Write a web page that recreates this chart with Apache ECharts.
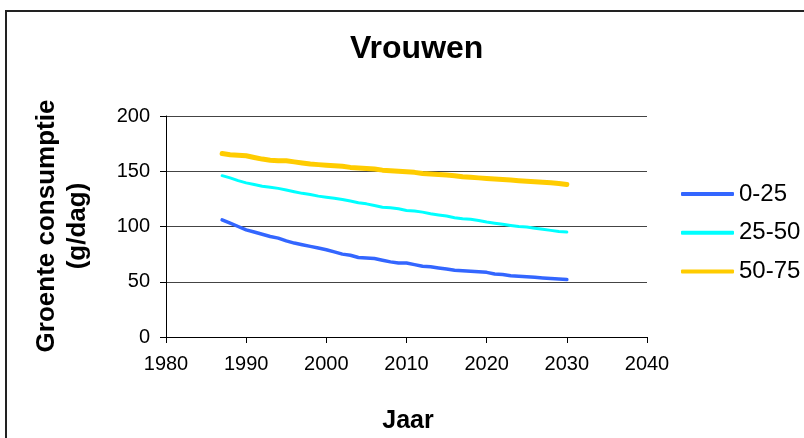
<!DOCTYPE html>
<html>
<head>
<meta charset="utf-8">
<script src="https://cdn.jsdelivr.net/npm/echarts@6/dist/echarts.min.js"></script>
<style>
html,body{margin:0;padding:0;background:#fff;}
#chart{width:804px;height:438px;}
</style>
</head>
<body>
<div id="chart"></div>
<script>
const years = [1987,1988,1989,1990,1991,1992,1993,1994,1995,1996,1997,1998,1999,2000,2001,2002,2003,2004,2005,2006,2007,2008,2009,2010,2011,2012,2013,2014,2015,2016,2017,2018,2019,2020,2021,2022,2023,2024,2025,2026,2027,2028,2029,2030];
const seriesNames = ['0-25','25-50','50-75'];
const v0_25 = [106,103,100,97,95,93,91,89.5,87,85,83.5,82,80.5,79,77,75,74,72,71.5,71,69.5,68,67,67,65.5,64,63.5,62.5,61.5,60.5,60,59.5,59,58.5,57,56.5,55.5,55,54.5,54,53.5,53,52.5,52];
const v25_50 = [146,144,141.5,139.5,138,136.5,135.5,134.5,133,131.5,130,129,127.5,126.5,125.5,124.5,123,121.5,120.5,119,117.5,117,116,114.5,114,113,111.5,110.5,109.5,108,107,106.5,105.5,104,103,102,101,100,99.5,98.5,97.5,96.5,95.5,95];
const v50_75 = [166,165,164.5,164,162.5,161,160,159.5,159.5,158.5,157.5,156.5,156,155.5,155,154.5,153.5,153,152.5,152,151,150.5,150,149.5,149,148,147.5,147,146.5,146,145,144.5,144,143.5,143,142.5,142,141.5,141,140.5,140,139.5,139,138];
const xTicks = [1980,1990,2000,2010,2020,2030,2040];
const yTicks = [0,50,100,150,200];
const titleText = 'Vrouwen';
const xName = 'Jaar';
const yName1 = 'Groente consumptie';
const yName2 = '(g/dag)';

const FONT = "'Liberation Sans', Arial, sans-serif";
const pairs = vals => years.map((y, i) => [y, vals[i]]);
const colors = ['#3366FF', '#00FFFF', '#FFCC00'];
const widths = [3.5, 3, 5];
const allVals = [v0_25, v25_50, v50_75];

const chart = echarts.init(document.getElementById('chart'), null, {renderer: 'canvas'});
chart.setOption({
  animation: false,
  backgroundColor: '#fff',
  grid: {left: 166, right: 157, top: 116, bottom: 101, containLabel: false},
  title: {
    text: titleText, left: 345, top: 28,
    textStyle: {fontFamily: FONT, fontSize: 32, fontWeight: 'bold', color: '#000'}
  },
  legend: {
    orient: 'vertical', left: 676, top: 177,
    itemWidth: 53, itemHeight: 4, itemGap: 14.7,
    data: seriesNames.map((n, i) => ({name: n, icon: 'roundRect', itemStyle: {color: colors[i]}})),
    textStyle: {fontFamily: FONT, fontSize: 24, lineHeight: 24, color: '#000'}
  },
  xAxis: {
    type: 'value', min: xTicks[0], max: xTicks[xTicks.length - 1], interval: 10,
    axisLine: {show: true, lineStyle: {color: '#000', width: 1}},
    axisTick: {show: true, length: 6, lineStyle: {color: '#000'}},
    axisLabel: {fontFamily: FONT, fontSize: 20, color: '#000', margin: 17, formatter: v => String(v)},
    splitLine: {show: false}
  },
  yAxis: {
    type: 'value', min: yTicks[0], max: yTicks[yTicks.length - 1], interval: 50,
    axisLine: {show: true, lineStyle: {color: '#000', width: 1}},
    axisTick: {show: true, length: 6, lineStyle: {color: '#000'}},
    axisLabel: {fontFamily: FONT, fontSize: 20, color: '#000', margin: 16},
    splitLine: {show: true, lineStyle: {color: '#444', width: 1}}
  },
  graphic: [
    {type: 'rect', z: -10, silent: true, shape: {x: 6, y: 11, width: 900, height: 600},
     style: {fill: 'none', stroke: '#222', lineWidth: 2}},
    {type: 'text', x: 47, y: 226, rotation: Math.PI / 2,
     style: {text: yName1, font: "bold 26px " + FONT, fill: '#000', textAlign: 'center', textVerticalAlign: 'middle'}},
    {type: 'text', x: 78, y: 226, rotation: Math.PI / 2,
     style: {text: yName2, font: "bold 26px " + FONT, fill: '#000', textAlign: 'center', textVerticalAlign: 'middle'}},
    {type: 'text', x: 408, y: 421,
     style: {text: xName, font: "bold 25px " + FONT, fill: '#000', textAlign: 'center', textVerticalAlign: 'middle'}}
  ],
  series: seriesNames.map((n, i) => ({
    name: n, type: 'line', symbol: 'none', showSymbol: false,
    data: pairs(allVals[i]),
    lineStyle: {color: colors[i], width: widths[i], cap: 'round', join: 'round'},
    itemStyle: {color: colors[i]},
    z: 3 - i
  }))
});
</script>
</body>
</html>
